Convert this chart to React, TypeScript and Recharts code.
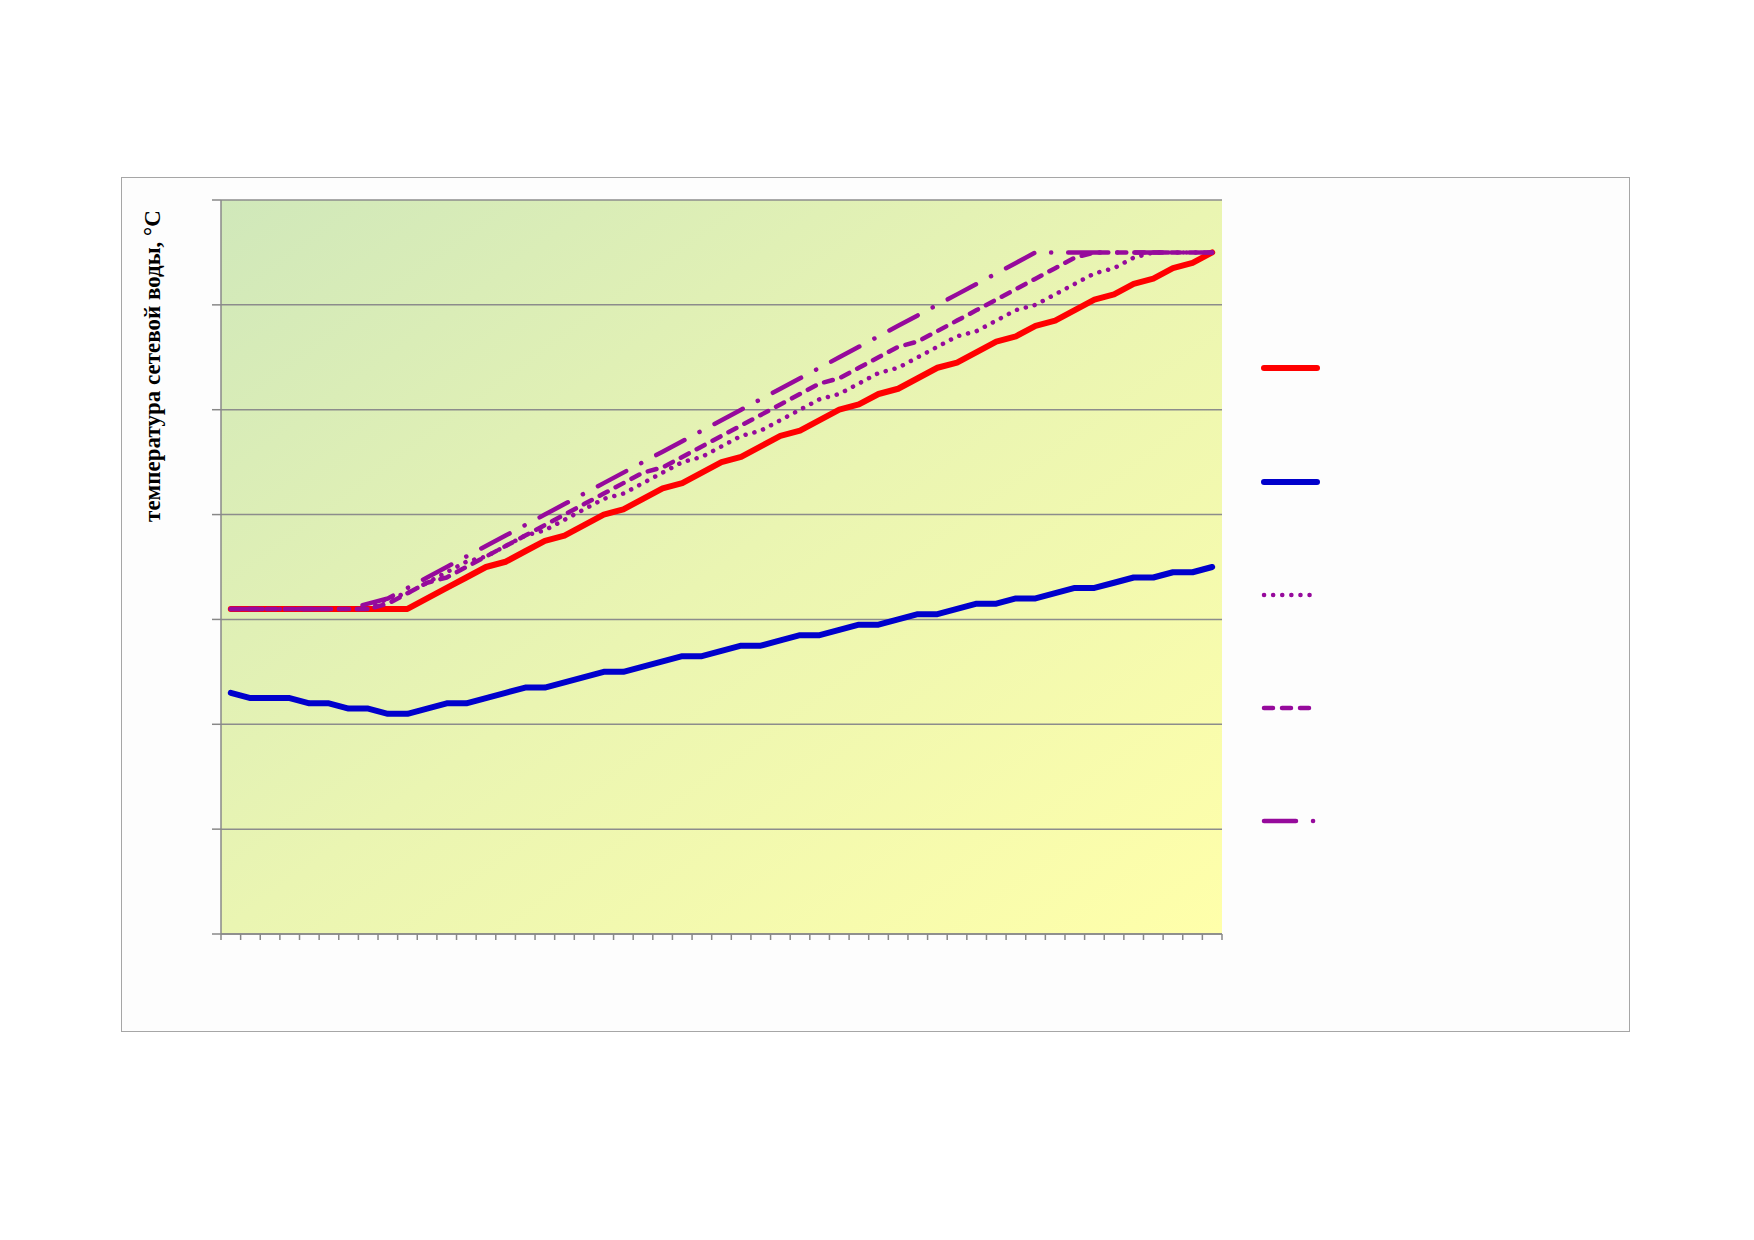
import React from 'react';
import { LineChart, Line, XAxis, YAxis, CartesianGrid } from 'recharts';

// outdoor air temperature categories (no labels are shown on the axis)
const categories = [
  10, 9, 8, 7, 6, 5, 4, 3, 2, 1,
  0, -1, -2, -3, -4, -5, -6, -7, -8, -9,
  -10, -11, -12, -13, -14, -15, -16, -17, -18, -19,
  -20, -21, -22, -23, -24, -25, -26, -27, -28, -29,
  -30, -31, -32, -33, -34, -35, -36, -37, -38, -39,
  -40,
];

// supply water temperature (red)
const supplyTemp = [
  62, 62, 62, 62, 62, 62, 62, 62, 62, 62,
  64, 66, 68, 70, 71, 73, 75, 76, 78, 80,
  81, 83, 85, 86, 88, 90, 91, 93, 95, 96,
  98, 100, 101, 103, 104, 106, 108, 109, 111, 113,
  114, 116, 117, 119, 121, 122, 124, 125, 127, 128,
  130,
];

// return water temperature (blue)
const returnTemp = [
  46, 45, 45, 45, 44, 44, 43, 43, 42, 42,
  43, 44, 44, 45, 46, 47, 47, 48, 49, 50,
  50, 51, 52, 53, 53, 54, 55, 55, 56, 57,
  57, 58, 59, 59, 60, 61, 61, 62, 63, 63,
  64, 64, 65, 66, 66, 67, 68, 68, 69, 69,
  70,
];

// variant curves (purple)
const variantDotted = [
  62, 62, 62, 62, 62, 62, 62, 62, 64, 65,
  67, 69, 71, 72, 74, 76, 77, 79, 81, 83,
  84, 86, 88, 90, 91, 93, 95, 96, 98, 100,
  102, 103, 105, 107, 108, 110, 112, 114, 115, 117,
  119, 120, 122, 124, 126, 127, 129, 130, 130, 130,
  130,
];

const variantDashed = [
  62, 62, 62, 62, 62, 62, 62, 62, 63, 65,
  67, 68, 70, 72, 74, 76, 78, 80, 82, 84,
  86, 88, 89, 91, 93, 95, 97, 99, 101, 103,
  105, 106, 108, 110, 112, 113, 115, 117, 119, 121,
  123, 125, 127, 129, 130, 130, 130, 130, 130, 130,
  130,
];

const variantDashDot = [
  62, 62, 62, 62, 62, 62, 62, 63, 64, 66,
  68, 70, 72, 74, 76, 78, 80, 82, 84, 86,
  88, 90, 92, 94, 96, 98, 100, 102, 104, 106,
  108, 110, 112, 114, 116, 118, 120, 122, 124, 126,
  128, 130, 130, 130, 130, 130, 130, 130, 130, 130,
  130,
];

const yTicks = [0, 20, 40, 60, 80, 100, 120, 140];

const yAxisTitle = 'температура сетевой воды, °С';

const data = categories.map((t, i) => ({
  pos: i,
  t,
  supply: supplyTemp[i],
  ret: returnTemp[i],
  v1: variantDotted[i],
  v2: variantDashed[i],
  v3: variantDashDot[i],
}));

// tick marks sit between categories
const xTicks = [...categories.map((_, i) => i - 0.5), categories.length - 0.5];

const PURPLE = '#960A9C';

const series = [
  { key: 'supply', color: '#FF0000', width: 6, dash: undefined as string | undefined },
  { key: 'ret', color: '#0000CC', width: 6, dash: undefined as string | undefined },
  { key: 'v1', color: PURPLE, width: 4.5, dash: '0.1 9' },
  { key: 'v2', color: PURPLE, width: 4.5, dash: '9 9' },
  { key: 'v3', color: PURPLE, width: 4.5, dash: '32 17 0.1 17' },
];

const legendY = [368, 482, 595, 708, 821];

const NoLabel = () => <g />;

export default function App() {
  const axisStroke = { stroke: '#888888', strokeWidth: 1.5 };
  return (
    <div
      style={{
        position: 'absolute',
        left: 0,
        top: 0,
        width: 1754,
        height: 1240,
        background: '#FFFFFF',
        overflow: 'hidden',
      }}
    >
      <div
        style={{
          position: 'absolute',
          left: 121,
          top: 177,
          width: 1507,
          height: 853,
          border: '1.5px solid #A6A6A6',
          background: '#FDFDFD',
        }}
      />
      <div style={{ position: 'absolute', left: 0, top: 0 }}>
        <LineChart
          width={1754}
          height={1240}
          data={data}
          margin={{ top: 200, left: 220, right: 532, bottom: 305 }}
        >
          <defs>
            <linearGradient id="plotBg" x1="0" y1="0" x2="1" y2="1">
              <stop offset="0%" stopColor="#D0E8BA" />
              <stop offset="50%" stopColor="#EAF5B2" />
              <stop offset="100%" stopColor="#FFFFAA" />
            </linearGradient>
          </defs>
          <CartesianGrid
            vertical={false}
            horizontal
            fill="url(#plotBg)"
            fillOpacity={1}
            stroke="#8C8C8C"
            strokeWidth={1.5}
          />
          <XAxis
            type="number"
            dataKey="pos"
            domain={[-0.5, 50.5]}
            ticks={xTicks}
            interval={0}
            tick={NoLabel}
            tickSize={6}
            height={1}
            axisLine={axisStroke}
            tickLine={axisStroke}
            allowDataOverflow
          />
          <YAxis
            type="number"
            domain={[0, 140]}
            ticks={yTicks}
            interval={0}
            tick={NoLabel}
            tickSize={9}
            width={1}
            axisLine={axisStroke}
            tickLine={axisStroke}
          />
          {series.map((s) => (
            <Line
              key={s.key}
              type="linear"
              dataKey={s.key}
              stroke={s.color}
              strokeWidth={s.width}
              strokeDasharray={s.dash}
              strokeLinecap="round"
              strokeLinejoin="round"
              dot={false}
              activeDot={false}
              isAnimationActive={false}
            />
          ))}
        </LineChart>
      </div>
      <div
        style={{
          position: 'absolute',
          left: 153,
          top: 366,
          transform: 'translate(-50%, -50%) rotate(-90deg)',
          whiteSpace: 'nowrap',
          fontFamily: '"Liberation Serif", "Times New Roman", serif',
          fontWeight: 'bold',
          fontSize: 23,
          color: '#000000',
        }}
      >
        {yAxisTitle}
      </div>
      <svg
        style={{ position: 'absolute', left: 0, top: 0 }}
        width={1754}
        height={1240}
        pointerEvents="none"
      >
        {series.map((s, i) => (
          <line
            key={s.key}
            x1={1264}
            x2={s.dash ? 1316 : 1317}
            y1={legendY[i]}
            y2={legendY[i]}
            stroke={s.color}
            strokeWidth={s.width}
            strokeDasharray={s.dash}
            strokeLinecap="round"
          />
        ))}
      </svg>
    </div>
  );
}
